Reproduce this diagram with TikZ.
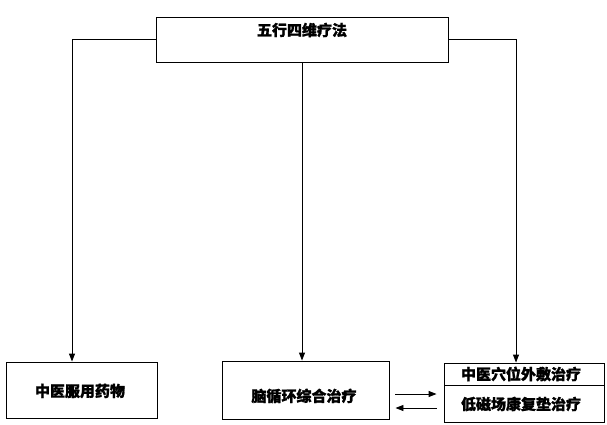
\documentclass[tikz,border=0pt]{standalone}
\usepackage{fontspec}
\newfontfamily\cjk{Noto Sans CJK SC}[BoldFeatures={FakeBold=1.2}]
\usetikzlibrary{arrows.meta,calc}
\begin{document}
\begin{tikzpicture}[x=1pt,y=-1pt,
  box/.style={draw=black,line width=0.9pt,inner sep=0pt,fill=white},
  lbl/.style={font=\cjk\bfseries\fontsize{15pt}{17pt}\selectfont,inner sep=0pt},
  conn/.style={draw=black,line width=0.9pt},
  arr/.style={conn,-{Triangle[length=8pt,width=6pt]}}]
\useasboundingbox (0,0) rectangle (607,425);
% boxes
\node[box,minimum width=292pt,minimum height=45pt] (top) at (302,39.5) {};
\node[lbl] (toptext) at (302,30) {五行四维疗法};
\node[box,minimum width=151pt,minimum height=56pt] (left) at (81.5,390) {};
\node[lbl] (lefttext) at (80,391) {中医服用药物};
\node[box,minimum width=167pt,minimum height=58pt] (mid) at (305.5,390) {};
\node[lbl] (midtext) at (304,396) {脑循环综合治疗};
\node[box,minimum width=160pt,minimum height=22pt] (ru) at (524,374) {};
\node[box,minimum width=160pt,minimum height=37pt] (rl) at (524,403.5) {};
\node[lbl] (rutext) at (521,374) {中医穴位外敷治疗};
\node[lbl] (rltext) at (521,404) {低磁场康复垫治疗};
% connectors
\draw[arr] (top.west) -| ([xshift=-9.5pt]left.north);
\draw[arr] (top.south) -- (top.south |- mid.north);
\draw[arr] (top.east) -| ([xshift=-8pt]ru.north);
\coordinate (a1) at ([xshift=6pt,yshift=-4pt]mid.east);
\coordinate (a2) at ([xshift=6pt,yshift=-18pt]mid.east);
\draw[arr] (a1) -- ([xshift=-7pt]a1 -| rl.west);
\draw[arr] ([xshift=-7pt]a2 -| rl.west) -- (a2);
\end{tikzpicture}
\end{document}
